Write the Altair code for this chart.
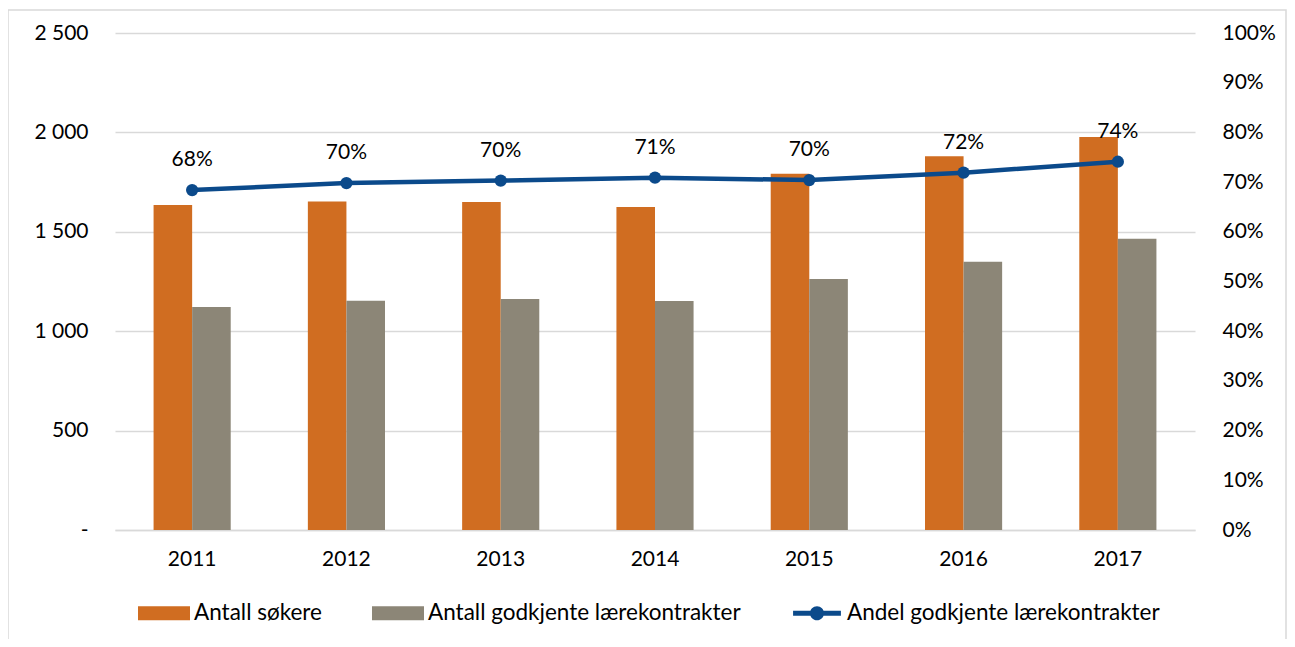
import altair as alt
import pandas as pd

years = ["2011", "2012", "2013", "2014", "2015", "2016", "2017"]
sokere = [1635, 1652, 1650, 1625, 1792, 1880, 1977]
godkjente = [1122, 1153, 1162, 1152, 1263, 1349, 1465]
andel = [0.684, 0.698, 0.703, 0.709, 0.704, 0.719, 0.741]

S1 = "Antall søkere"
S2 = "Antall godkjente lærekontrakter"
S3 = "Andel godkjente lærekontrakter"
SERIES = [S1, S2, S3]
ORANGE = "#d06d21"
GRAY = "#8c8677"
BLUE = "#0b4a8b"
FONT = "Lato"
FS = 21
LFS = 22.5

bars_df = pd.DataFrame(
    [{"year": y, "series": S1, "value": v} for y, v in zip(years, sokere)]
    + [{"year": y, "series": S2, "value": v} for y, v in zip(years, godkjente)]
)
line_df = pd.DataFrame({"year": years, "andel": andel})
legend_df = pd.DataFrame({"series": SERIES})

xenc = alt.X(
    "year:O",
    scale=alt.Scale(paddingInner=0.5, paddingOuter=0.25),
    axis=alt.Axis(
        title=None, labelAngle=0, ticks=False, domainColor="#d9d9d9", domainWidth=1.5,
        labelPadding=18, labelFontSize=FS, labelFont=FONT, labelColor="#000000", grid=False,
    ),
)

rect_path = "M-1,-0.27H1V0.27H-1Z"
line_path = ("M-0.92,-0.1H0.92V0.1H-0.92Z "
             "M-0.27,0A0.27,0.27 0 1,1 0.27,0A0.27,0.27 0 1,1 -0.27,0Z")

legend_opts = dict(
    title=None, orient="none", direction="horizontal", legendX=23, legendY=554,
    labelFontSize=LFS, labelFont=FONT, labelColor="#000000", labelOffset=4,
    columnPadding=50, symbolSize=2704, symbolStrokeWidth=0, labelLimit=500,
    symbolOpacity=1,
)
color_scale = alt.Scale(domain=SERIES, range=[ORANGE, GRAY, BLUE])

bars = alt.Chart(bars_df).mark_bar().encode(
    x=xenc,
    xOffset=alt.XOffset("series:N", sort=[S1, S2]),
    y=alt.Y(
        "value:Q",
        scale=alt.Scale(domain=[0, 2500]),
        axis=alt.Axis(
            title=None, values=[0, 500, 1000, 1500, 2000, 2500], grid=True,
            gridColor="#d9d9d9", gridWidth=1.5, domain=False, ticks=False,
            labelPadding=27, labelFontSize=FS, labelFont=FONT, labelColor="#000000",
            labelExpr="datum.value == 0 ? '-' : replace(format(datum.value, ','), ',', ' ')",
        ),
    ),
    color=alt.Color("series:N", scale=color_scale, legend=alt.Legend(**legend_opts)),
)

right_axis = alt.Axis(
    title=None, orient="right", values=[i / 10 for i in range(11)], format=".0%",
    grid=False, domain=False, ticks=False, labelPadding=27, labelFontSize=FS,
    labelFont=FONT, labelColor="#000000",
)
yright = alt.Y("andel:Q", scale=alt.Scale(domain=[0, 1]), axis=right_axis)

line = alt.Chart(line_df).mark_line(color=BLUE, strokeWidth=4.5).encode(x=xenc, y=yright)
pts = alt.Chart(line_df).mark_point(filled=True, color=BLUE, size=150, opacity=1).encode(
    x=xenc, y=yright
)
labels = alt.Chart(line_df).mark_text(
    dy=-30, fontSize=FS, font=FONT, color="#000000"
).encode(
    x=xenc,
    y=yright,
    text=alt.Text("andel:Q", format=".0%"),
)

right_layer = alt.layer(line, pts, labels)

# off-canvas dummy marks that carry the combined colour+shape legend
legend_layer = alt.Chart(legend_df).mark_point(filled=True, opacity=1).encode(
    x=alt.value(-2000), y=alt.value(-2000),
    color=alt.Color("series:N", scale=color_scale, legend=alt.Legend(**legend_opts)),
    shape=alt.Shape(
        "series:N",
        scale=alt.Scale(domain=SERIES, range=[rect_path, rect_path, line_path]),
        legend=alt.Legend(**legend_opts),
    ),
)

frame = alt.Chart(pd.DataFrame({"a": [1]})).mark_rect(
    fill="transparent", stroke="#d9d9d9", strokeWidth=1.5
).encode(
    x=alt.value(-107), x2=alt.value(1171), y=alt.value(-23), y2=alt.value(640)
)

chart = alt.layer(bars, right_layer, legend_layer, frame).resolve_scale(
    y="independent"
).properties(
    width=1080, height=497,
    padding={"left": 107, "top": 25, "right": 92, "bottom": 109},
    autosize="none",
).configure_view(stroke=None)

chart.save("out.html", embed_options={"renderer": "svg", "actions": False})
